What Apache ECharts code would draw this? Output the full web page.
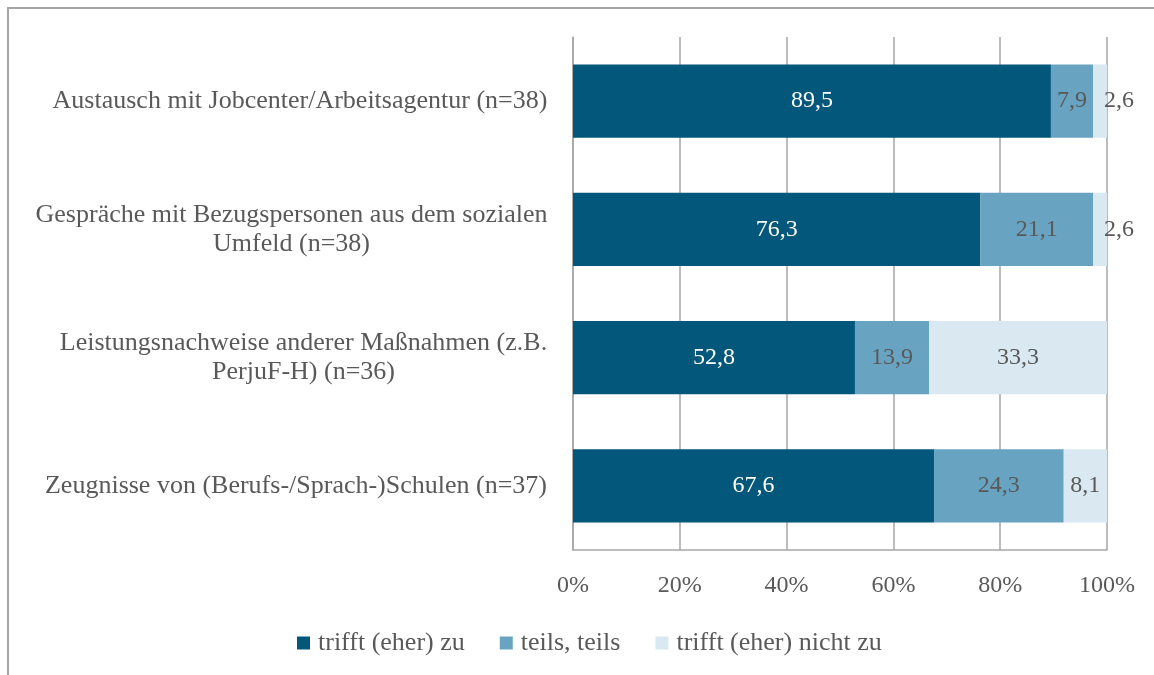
<!DOCTYPE html>
<html><head><meta charset="utf-8">
<script src="https://cdn.jsdelivr.net/npm/echarts@6/dist/echarts.min.js"></script>
<style>html,body{margin:0;padding:0;background:#fff}#c{width:1154px;height:675px}</style>
</head><body><div id="c"></div>
<script>
const categories = [
  "Austausch mit Jobcenter/Arbeitsagentur (n=38)",
  "Gespräche mit Bezugspersonen aus dem sozialen\nUmfeld (n=38)",
  "Leistungsnachweise anderer Maßnahmen (z.B.\nPerjuF-H) (n=36)",
  "Zeugnisse von (Berufs-/Sprach-)Schulen (n=37)"
];
const seriesNames = ["trifft (eher) zu", "teils, teils", "trifft (eher) nicht zu"];
const zu = [89.5, 76.3, 52.8, 67.6];
const teils = [7.9, 21.1, 13.9, 24.3];
const nichtZu = [2.6, 2.6, 33.3, 8.1];
const colors = ["#03577a", "#68a4c2", "#d9e8f1"];
const FONT = "Liberation Serif";
const FS = 24;      // numbers
const FS_T = 26;    // words
const TXT = '#595959';
const fmt = v => String(v).replace('.', ',');

// measure lines so multi-line labels are centred as a block, right-aligned to the axis
const cv = document.createElement('canvas').getContext('2d');
cv.font = FS_T + 'px "' + FONT + '"';
const rich = {};
categories.forEach((c, i) => {
  const w = Math.max(...c.split('\n').map(l => cv.measureText(l).width));
  rich['l' + i] = { width: Math.ceil(w) + 1, align: 'center', fontFamily: FONT, fontSize: FS_T, color: TXT, lineHeight: 29 };
});

function mk(name, vals, color, labelColor) {
  return {
    name, type: 'bar', stack: 'a', barWidth: '57%',
    itemStyle: { color },
    data: vals.map(v => {
      const d = { value: v };
      if (v < 5) d.label = { position: 'right', distance: -3 };
      return d;
    }),
    label: { show: true, position: 'inside', color: labelColor, fontFamily: FONT, fontSize: FS,
      formatter: p => fmt(p.value) },
    emphasis: { disabled: true }
  };
}

const chart = echarts.init(document.getElementById('c'));
chart.setOption({
  animation: false,
  textStyle: { fontFamily: FONT, color: TXT },
  graphic: [{ type: 'rect', shape: { x: 8, y: 8, width: 1170, height: 700 },
    style: { fill: 'none', stroke: '#a6a6a6', lineWidth: 2 }, silent: true }],
  grid: { left: 573, right: 47, top: 37, bottom: 125 },
  legend: {
    top: 625, left: 292, itemWidth: 13, itemHeight: 13, itemGap: 35,
    icon: 'rect', textStyle: { fontFamily: FONT, fontSize: FS_T, color: TXT, padding: [0, 0, 0, 3] },
    data: seriesNames
  },
  xAxis: {
    type: 'value', min: 0, max: 100, interval: 20,
    axisLabel: { formatter: '{value}%', fontFamily: FONT, fontSize: FS, color: TXT, margin: 24 },
    axisLine: { show: true, lineStyle: { color: '#a6a6a6', width: 1.5 } },
    axisTick: { show: false },
    splitLine: { show: true, lineStyle: { color: '#a6a6a6', width: 1.5 } }
  },
  yAxis: {
    type: 'category', data: categories, inverse: true,
    axisLine: { show: true, lineStyle: { color: '#a6a6a6', width: 1.5 } },
    axisTick: { show: false },
    axisLabel: { margin: 25, align: 'right', rich,
      formatter: (v, i) => v.split('\n').map(l => '{l' + i + '|' + l + '}').join('\n') }
  },
  series: [
    mk(seriesNames[0], zu, colors[0], '#ffffff'),
    mk(seriesNames[1], teils, colors[1], TXT),
    mk(seriesNames[2], nichtZu, colors[2], TXT)
  ]
});
</script></body></html>
